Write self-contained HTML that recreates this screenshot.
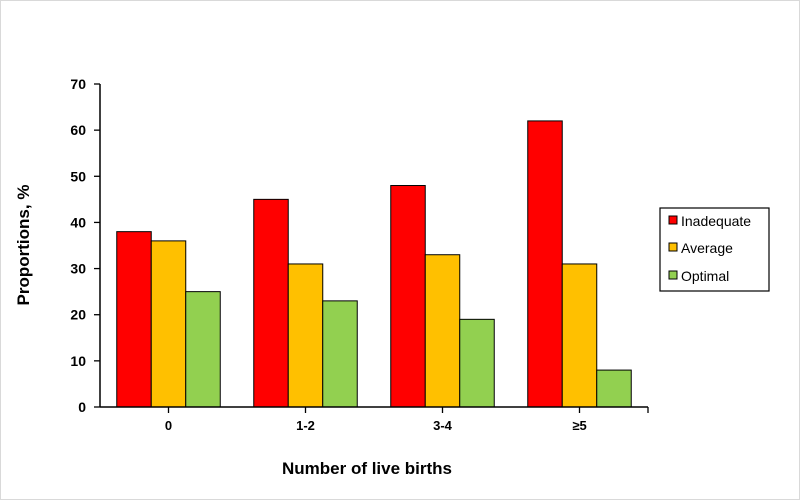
<!DOCTYPE html>
<html><head><meta charset="utf-8"><style>
body{margin:0;background:#fff}
svg{display:block;font-family:"Liberation Sans",Arial,sans-serif;font-weight:bold}
</style></head><body>
<svg id="chart" width="800" height="500">
<rect x="0.5" y="0.5" width="799" height="499" fill="#fff" stroke="#d9d9d9"/>
<g id="plot"></g>
<text x="367" y="474" font-size="17" text-anchor="middle">Number of live births</text>
<text transform="translate(29,245) rotate(-90)" font-size="17" text-anchor="middle">Proportions, %</text>
<g>
<rect x="660" y="208" width="109" height="83" fill="#fff" stroke="#000" stroke-width="1.2"/>
<g><rect x="669" y="216" width="8" height="8" fill="#ff0000" stroke="#000"/><text x="681" y="226" font-size="14" font-weight="normal">Inadequate</text></g>
<g><rect x="669" y="243" width="8" height="8" fill="#ffc000" stroke="#000"/><text x="681" y="253" font-size="14" font-weight="normal">Average</text></g>
<g><rect x="669" y="271" width="8" height="8" fill="#92d050" stroke="#000"/><text x="681" y="281" font-size="14" font-weight="normal">Optimal</text></g>
</g>
</svg>
<script>
const categories=["0","1-2","3-4","\u22655"];
const inadequate=[38,45,48,62];
const average=[36,31,33,31];
const optimal=[25,23,19,8];
const yTicks=[0,10,20,30,40,50,60,70];
const NS="http://www.w3.org/2000/svg";
const g=document.getElementById('plot');
const X0=100,GW=137,Y0=407,Y1=84,YMAX=70,BW=34.5;
const y=v=>Y0-(v/YMAX)*(Y0-Y1);
const gx=i=>X0+i*GW;
function mk(t,a){const e=document.createElementNS(NS,t);for(const k in a)e.setAttribute(k,a[k]);g.appendChild(e);return e;}
const series=[["inadequate",inadequate,"#ff0000"],["average",average,"#ffc000"],["optimal",optimal,"#92d050"]];
categories.forEach((c,i)=>{
 series.forEach((s,j)=>{
  const x=gx(i)+(GW-3*BW)/2+j*BW;
  const r=mk('rect',{x:x,y:y(s[1][i]),width:BW,height:y(0)-y(s[1][i]),fill:s[2],stroke:'#000','stroke-width':1});
  
  
 });
 const t=mk('text',{x:gx(i)+GW/2,y:430,'font-size':13,'text-anchor':'middle'});
 t.textContent=c;
 
 
 mk('line',{x1:gx(i)+GW/2,x2:gx(i)+GW/2,y1:Y0,y2:Y0+6,stroke:'#000','stroke-width':1.3});
});
yTicks.forEach(v=>{
 mk('line',{x1:X0-6,x2:X0,y1:y(v),y2:y(v),stroke:'#000','stroke-width':1.3});
 const t=mk('text',{x:X0-14,y:y(v)+5,'font-size':14,'text-anchor':'end'});
 t.textContent=v;
 
 
});
const ya=mk('line',{x1:X0,x2:X0,y1:Y1,y2:Y0,stroke:'#000','stroke-width':1.5});


const xa=mk('line',{x1:X0,x2:X0+categories.length*GW,y1:Y0,y2:Y0,stroke:'#000','stroke-width':1.5});


mk('line',{x1:X0+categories.length*GW,x2:X0+categories.length*GW,y1:Y0,y2:Y0+6,stroke:'#000','stroke-width':1.3});
</script>
</body></html>
